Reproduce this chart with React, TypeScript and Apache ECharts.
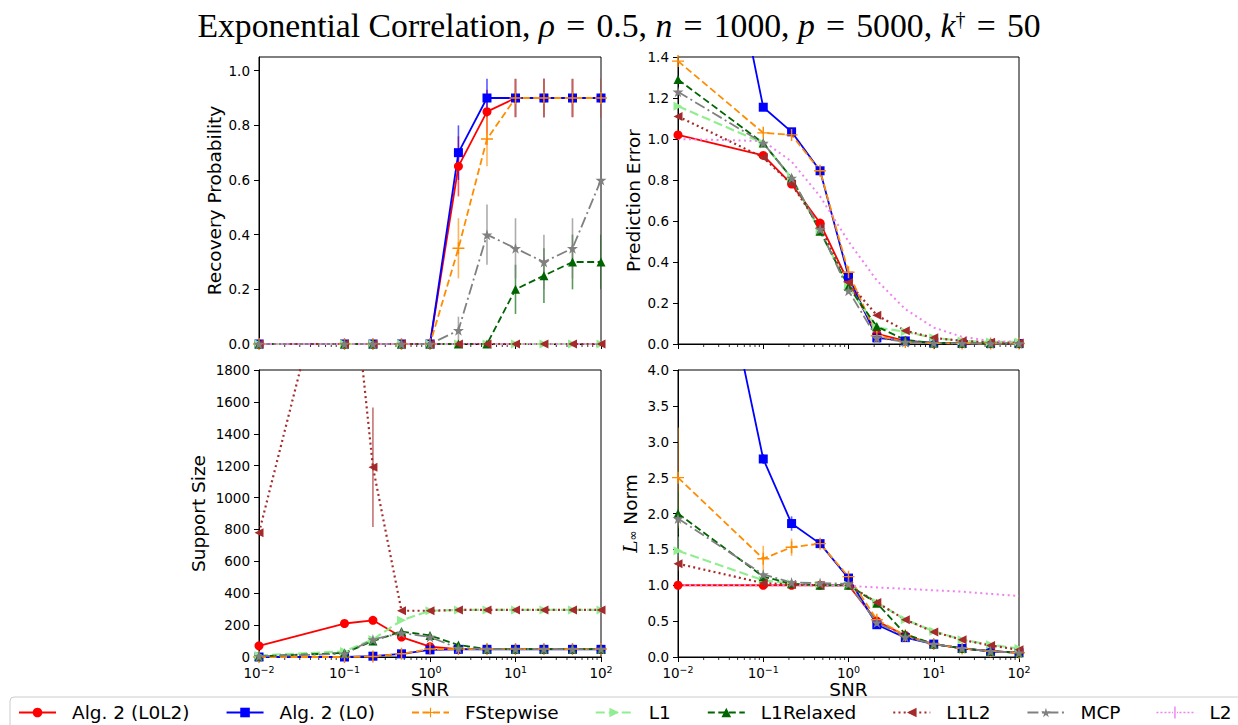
import React, { useEffect, useRef } from 'react';
import * as echarts from 'echarts';

// ---------- data ----------
const SNR = [0.01, 0.1, 0.215, 0.464, 1, 2.15, 4.64, 10, 21.5, 46.4, 100];
const MINOR_TICKS = [
  0.02, 0.03, 0.04, 0.05, 0.06, 0.07, 0.08, 0.09,
  0.2, 0.3, 0.4, 0.5, 0.6, 0.7, 0.8, 0.9,
  2, 3, 4, 5, 6, 7, 8, 9,
  20, 30, 40, 50, 60, 70, 80, 90,
];

const METHOD_NAMES = ['Alg. 2 (L0L2)', 'Alg. 2 (L0)', 'FStepwise', 'L1', 'L1Relaxed', 'L1L2', 'MCP', 'L2'];

// Recovery probability
const recL0L2 = [0, 0, 0, 0, 0, 0.65, 0.85, 0.9, 0.9, 0.9, 0.9];
const recL0 = [0, 0, 0, 0, 0, 0.7, 0.9, 0.9, 0.9, 0.9, 0.9];
const recFS = [0, 0, 0, 0, 0, 0.35, 0.75, 0.9, 0.9, 0.9, 0.9];
const recL1 = [0, 0, 0, 0, 0, 0, 0, 0, 0, 0, 0];
const recL1R = [0, 0, 0, 0, 0, 0, 0, 0.2, 0.25, 0.3, 0.3];
const recL1L2 = [0, 0, 0, 0, 0, 0, 0, 0, 0, 0, 0];
const recMCP = [0, 0, 0, 0, 0, 0.05, 0.4, 0.35, 0.3, 0.35, 0.6];
const recL2 = [0, 0, 0, 0, 0, 0, 0, 0, 0, 0, 0];
// Recovery probability error bars (half widths)
const recErrL0L2 = [0, 0, 0, 0, 0, 0.11, 0.08, 0.07, 0.07, 0.07, 0.07];
const recErrL0 = [0, 0, 0, 0, 0, 0.1, 0.07, 0.07, 0.07, 0.07, 0.07];
const recErrFS = [0, 0, 0, 0, 0, 0.11, 0.1, 0.07, 0.07, 0.07, 0.07];
const recErrL1R = [0, 0, 0, 0, 0, 0, 0, 0.09, 0.1, 0.1, 0.1];
const recErrMCP = [0, 0, 0, 0, 0, 0.05, 0.11, 0.11, 0.1, 0.11, 0.11];

// Prediction error
const peL0L2 = [1.02, 0.92, 0.78, 0.59, 0.3, 0.05, 0.015, 0.005, 0.003, 0.002, 0.002];
const peL0 = [3.2, 1.155, 1.035, 0.845, 0.33, 0.03, 0.015, 0.005, 0.003, 0.002, 0.002];
const peFS = [1.38, 1.03, 1.02, 0.845, 0.35, 0.04, 0.01, 0.004, 0.003, 0.002, 0.002];
const peL1 = [1.16, 0.98, 0.81, 0.55, 0.28, 0.08, 0.06, 0.03, 0.015, 0.01, 0.01];
const peL1R = [1.29, 0.98, 0.81, 0.55, 0.28, 0.085, 0.02, 0.005, 0.003, 0.002, 0.002];
const peL1L2 = [1.11, 0.91, 0.78, 0.57, 0.3, 0.14, 0.065, 0.03, 0.015, 0.008, 0.005];
const peMCP = [1.23, 0.98, 0.81, 0.56, 0.26, 0.03, 0.01, 0.005, 0.003, 0.002, 0.002];
const peL2 = [1.0, 0.99, 0.89, 0.72, 0.5, 0.31, 0.17, 0.08, 0.035, 0.015, 0.01];

// Support size
const ssL0L2 = [70, 210, 230, 125, 65, 50, 50, 50, 50, 50, 50];
const ssL0 = [0, 0, 5, 20, 45, 48, 48, 48, 48, 48, 48];
const ssFS = [0, 0, 3, 20, 50, 50, 50, 50, 50, 50, 50];
const ssL1 = [10, 35, 110, 230, 290, 295, 295, 295, 295, 295, 295];
const ssL1R = [5, 25, 100, 160, 135, 75, 50, 50, 50, 50, 50];
const ssL1L2 = [780, 2900, 1190, 290, 290, 295, 295, 295, 295, 295, 295];
const ssMCP = [5, 20, 110, 150, 125, 55, 50, 50, 50, 50, 50];
const ssL2 = [5000, 5000, 5000, 5000, 5000, 5000, 5000, 5000, 5000, 5000, 5000];
const ssErrL0L2 = [0, 25, 18, 10, 0, 0, 0, 0, 0, 0, 0];
const ssErrL1L2 = [0, 0, 375, 0, 0, 0, 0, 0, 0, 0, 0];

// L-infinity norm
const linfL0L2 = [1.0, 1.0, 1.0, 1.0, 1.0, 0.5, 0.3, 0.18, 0.12, 0.08, 0.06];
const linfL0 = [8.4, 2.76, 1.86, 1.58, 1.1, 0.45, 0.27, 0.18, 0.12, 0.08, 0.06];
const linfFS = [2.5, 1.37, 1.53, 1.58, 1.12, 0.52, 0.3, 0.18, 0.12, 0.08, 0.06];
const linfL1 = [1.48, 1.07, 1.02, 1.0, 1.0, 0.76, 0.52, 0.36, 0.24, 0.17, 0.12];
const linfL1R = [2.0, 1.12, 1.02, 1.0, 1.0, 0.75, 0.32, 0.18, 0.12, 0.08, 0.06];
const linfL1L2 = [1.3, 1.03, 1.01, 1.0, 1.0, 0.76, 0.52, 0.35, 0.24, 0.16, 0.1];
const linfMCP = [1.93, 1.15, 1.04, 1.03, 1.02, 0.48, 0.28, 0.18, 0.12, 0.08, 0.06];
const linfL2 = [1.0, 1.0, 1.0, 1.0, 0.99, 0.97, 0.95, 0.93, 0.91, 0.88, 0.85];
const linfErrL0 = [0, 0.07, 0.1, 0, 0, 0, 0, 0, 0, 0, 0];
const linfErrFS = [0.7, 0.18, 0.12, 0, 0, 0, 0, 0, 0, 0, 0];
const linfErrL1 = [0.2, 0, 0, 0, 0, 0, 0, 0, 0, 0, 0];
const linfErrL1R = [0.3, 0, 0, 0, 0, 0, 0, 0, 0, 0, 0];
const linfErrL1L2 = [0.1, 0, 0, 0, 0, 0, 0, 0, 0, 0, 0];
const linfErrMCP = [0.1, 0, 0, 0, 0, 0, 0, 0, 0, 0, 0];

// ---------- styles ----------
const PLUS = 'path://M4.4,0H5.6V4.4H10V5.6H5.6V10H4.4V5.6H0V4.4H4.4Z';
const STAR = 'path://M50,0L61,35L98,35L68,57L79,91L50,70L21,91L32,57L2,35L39,35Z';
// legend glyph for L2: dotted line crossed by an error-bar tick
const L2_ICON =
  'path://M0,5.3H2V6.7H0Z M4,5.3H6V6.7H4Z M8,5.3H10V6.7H8Z M12,5.3H14V6.7H12Z ' +
  'M23,5.3H25V6.7H23Z M27,5.3H29V6.7H27Z M31,5.3H33V6.7H31Z M35,5.3H37V6.7H35Z ' +
  'M15.5,5.3H16.5V6.7H15.5Z M20.5,5.3H21.5V6.7H20.5Z M17.8,0H19.2V12H17.8Z';

const STYLES = [
  { color: '#ff0000', dash: 'solid', symbol: 'circle', size: 9, rotate: 0, width: 1.8, show: true },
  { color: '#0000ff', dash: 'solid', symbol: 'rect', size: 9, rotate: 0, width: 1.8, show: true },
  { color: '#ff8c00', dash: [7, 3.5], symbol: PLUS, size: 12, rotate: 0, width: 1.8, show: true },
  { color: '#90ee90', dash: [9, 4], symbol: 'triangle', size: 9, rotate: -90, width: 2.2, show: true },
  { color: '#006400', dash: [7, 3.5], symbol: 'triangle', size: 9, rotate: 0, width: 1.8, show: true },
  { color: '#a52a2a', dash: [2, 3.2], symbol: 'triangle', size: 9, rotate: 90, width: 2.2, show: true },
  { color: '#808080', dash: [11, 3.5, 2, 3.5], symbol: STAR, size: 11, rotate: 0, width: 1.8, show: true },
  { color: '#ee82ee', dash: [2, 3.5], symbol: 'none', size: 0, rotate: 0, width: 2, show: false },
];

const PANELS = [
  {
    values: [recL0L2, recL0, recFS, recL1, recL1R, recL1L2, recMCP, recL2],
    errors: [recErrL0L2, recErrL0, recErrFS, null, recErrL1R, null, recErrMCP, null],
  },
  {
    values: [peL0L2, peL0, peFS, peL1, peL1R, peL1L2, peMCP, peL2],
    errors: [null, null, null, null, null, null, null, null],
  },
  {
    values: [ssL0L2, ssL0, ssFS, ssL1, ssL1R, ssL1L2, ssMCP, ssL2],
    errors: [ssErrL0L2, null, null, null, null, ssErrL1L2, null, null],
  },
  {
    values: [linfL0L2, linfL0, linfFS, linfL1, linfL1R, linfL1L2, linfMCP, linfL2],
    errors: [null, linfErrL0, linfErrFS, linfErrL1, linfErrL1R, linfErrL1L2, linfErrMCP, null],
  },
];

const GRIDS = [
  { left: 259, top: 57, width: 342, height: 287 },
  { left: 678, top: 57, width: 341, height: 287 },
  { left: 259, top: 370, width: 342, height: 287 },
  { left: 678, top: 370, width: 341, height: 287 },
];

const FONT = 'DejaVu Sans';
const SERIF = 'Liberation Serif';
const TICK_FS = 13.5;
const NAME_FS = 18.5;
const TITLE_FS = 33.7;
const EQ = '\u2004=\u2004';

function buildOption() {
  const grid = GRIDS.map((g) => ({
    ...g,
    show: true,
    borderColor: '#000',
    borderWidth: 1,
    backgroundColor: 'transparent',
    containLabel: false,
  }));

  const xAxis = GRIDS.map((_, gi) => ({
    type: 'log',
    logBase: 10,
    gridIndex: gi,
    min: 0.01,
    max: 100,
    splitLine: { show: false },
    axisLine: { show: true, lineStyle: { color: '#000', width: 1 } },
    axisTick: { show: true, inside: false, length: 5, lineStyle: { color: '#000', width: 1 } },
    axisLabel: {
      show: gi >= 2,
      margin: 7,
      color: '#000',
      fontFamily: FONT,
      fontSize: TICK_FS,
      formatter: (v: number) => {
        const e = Math.round(Math.log10(v));
        const s = e < 0 ? '\u2212' + Math.abs(e) : String(e);
        return '{b|10}{s|' + s + '}';
      },
      rich: {
        b: { fontFamily: FONT, fontSize: TICK_FS, color: '#000' },
        s: { fontFamily: FONT, fontSize: 9.5, color: '#000', padding: [0, 0, 7, 0] },
      },
    },
    name: gi >= 2 ? 'SNR' : '',
    nameLocation: 'middle',
    nameGap: 14,
    nameTextStyle: { fontFamily: FONT, fontSize: NAME_FS, color: '#000' },
  }));

  const yCommon = (gi: number) => ({
    type: 'value',
    gridIndex: gi,
    min: 0,
    splitLine: { show: false },
    axisLine: { show: true, lineStyle: { color: '#000', width: 1 } },
    axisTick: { show: true, inside: false, length: 5, lineStyle: { color: '#000', width: 1 } },
    nameLocation: 'middle',
    nameTextStyle: { fontFamily: FONT, fontSize: NAME_FS, color: '#000' },
  });
  const lab = (fmt: (v: number) => string) => ({
    margin: 9,
    color: '#000',
    fontFamily: FONT,
    fontSize: TICK_FS,
    formatter: fmt,
  });

  const yAxis = [
    {
      ...yCommon(0),
      max: 1.05,
      name: 'Recovery Probability',
      nameGap: 35,
      axisTick: { show: true, length: 5, lineStyle: { color: '#000' }, customValues: [0, 0.2, 0.4, 0.6, 0.8, 1.0] },
      axisLabel: { ...lab((v) => v.toFixed(1)), customValues: [0, 0.2, 0.4, 0.6, 0.8, 1.0] },
    },
    {
      ...yCommon(1),
      max: 1.4,
      interval: 0.2,
      name: 'Prediction Error',
      nameGap: 35,
      axisLabel: lab((v) => v.toFixed(1)),
    },
    {
      ...yCommon(2),
      max: 1800,
      interval: 200,
      name: 'Support Size',
      nameGap: 51,
      axisLabel: lab((v) => String(Math.round(v))),
    },
    {
      ...yCommon(3),
      max: 4,
      interval: 0.5,
      name: '{i|L}{sub|\u221e}{n| Norm}',
      nameGap: 38,
      nameTextStyle: {
        fontFamily: FONT,
        fontSize: NAME_FS,
        color: '#000',
        rich: {
          i: { fontFamily: 'DejaVu Serif', fontStyle: 'italic', fontSize: NAME_FS, color: '#000' },
          sub: { fontFamily: FONT, fontSize: 12, color: '#000', padding: [0, 0, -4, 0] },
          n: { fontFamily: FONT, fontSize: NAME_FS, color: '#000' },
        },
      },
      axisLabel: lab((v) => v.toFixed(1)),
    },
  ];

  const series: any[] = [];
  PANELS.forEach((panel, gi) => {
    panel.values.forEach((vals, mi) => {
      const st = STYLES[mi];
      series.push({
        type: 'line',
        name: METHOD_NAMES[mi],
        xAxisIndex: gi,
        yAxisIndex: gi,
        data: SNR.map((x, i) => [x, vals[i]]),
        symbol: st.symbol,
        symbolSize: st.size,
        symbolRotate: st.rotate,
        showSymbol: st.show,
        clip: true,
        lineStyle: { color: st.color, width: st.width, type: st.dash as any },
        itemStyle: { color: st.color },
        emphasis: { disabled: true },
      });
    });
  });
  PANELS.forEach((panel, gi) => {
    panel.errors.forEach((errs, mi) => {
      if (!errs) return;
      const vals = panel.values[mi];
      const st = STYLES[mi];
      const data = SNR.map((x, i) => [x, vals[i] - errs[i], vals[i] + errs[i]]).filter((_, i) => errs[i] > 0);
      series.push({
        type: 'custom',
        name: METHOD_NAMES[mi],
        xAxisIndex: gi,
        yAxisIndex: gi,
        silent: true,
        clip: true,
        encode: { x: 0, y: [1, 2] },
        data,
        renderItem: (_p: any, api: any) => {
          const a = api.coord([api.value(0), api.value(1)]);
          const b = api.coord([api.value(0), api.value(2)]);
          return {
            type: 'line',
            shape: { x1: a[0], y1: a[1], x2: b[0], y2: b[1] },
            style: { stroke: st.color, lineWidth: 1.6, opacity: 0.65 },
          };
        },
      });
    });
    series.push({
      type: 'custom',
      name: 'minor-ticks',
      xAxisIndex: gi,
      yAxisIndex: gi,
      silent: true,
      clip: false,
      encode: { x: 0, y: 1 },
      data: MINOR_TICKS.map((v) => [v, 0]),
      renderItem: (_p: any, api: any) => {
        const p = api.coord([api.value(0), api.value(1)]);
        return {
          type: 'line',
          shape: { x1: p[0], y1: p[1], x2: p[0], y2: p[1] + 3 },
          style: { stroke: '#000', lineWidth: 0.8 },
        };
      },
    });
  });

  const legendData = METHOD_NAMES.map((n, i) =>
    i === 7 ? { name: n, icon: L2_ICON, itemStyle: { color: STYLES[7].color } } : { name: n }
  );

  return {
    animation: false,
    backgroundColor: '#ffffff',
    textStyle: { fontFamily: FONT },
    title: {
      left: 'center',
      top: 3,
      text:
        '{n|Exponential Correlation, }{i|\u03c1}{n|' + EQ + '0.5, }{i|n}{n|' + EQ + '1000, }{i|p}{n|' + EQ +
        '5000, }{i|k}{sup|\u2020}{n|' + EQ + '50}',
      textStyle: {
        fontWeight: 'normal',
        rich: {
          n: { fontFamily: SERIF, fontSize: TITLE_FS, fontWeight: 'normal', color: '#000' },
          i: { fontFamily: SERIF, fontStyle: 'italic', fontWeight: 'normal', fontSize: TITLE_FS, color: '#000' },
          sup: { fontFamily: SERIF, fontSize: 20, fontWeight: 'normal', color: '#000', padding: [0, 0, 13, 0] },
        },
      },
    },
    legend: {
      data: legendData,
      left: 10,
      top: 697,
      width: 1300,
      orient: 'horizontal',
      itemWidth: 37,
      itemHeight: 12,
      itemGap: 36,
      padding: [6, 10, 10, 8],
      borderColor: '#cccccc',
      borderWidth: 1,
      borderRadius: 4,
      backgroundColor: 'rgba(255,255,255,0.8)',
      selectedMode: false,
      textStyle: { fontFamily: FONT, fontSize: NAME_FS, color: '#000', padding: [0, 0, 0, 11] },
    },
    grid,
    xAxis,
    yAxis,
    series,
  };
}

export default function App() {
  const ref = useRef<HTMLDivElement>(null);
  useEffect(() => {
    if (!ref.current) return;
    const chart = echarts.init(ref.current, undefined, { renderer: 'svg' });
    chart.setOption(buildOption() as any);
    return () => chart.dispose();
  }, []);
  return (
    <div
      ref={ref}
      style={{ position: 'absolute', left: 0, top: 0, width: 1238, height: 725, background: '#fff' }}
    />
  );
}
